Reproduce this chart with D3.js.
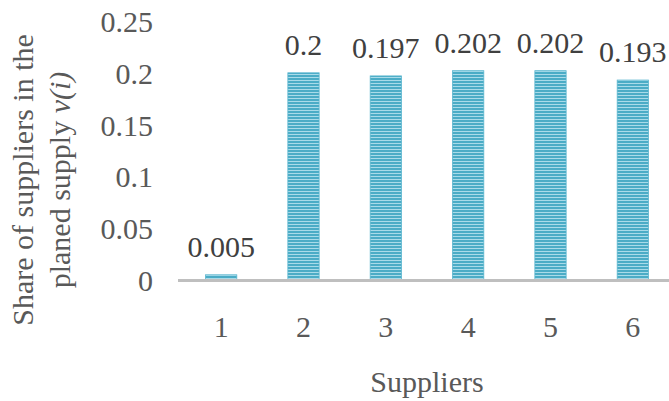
<!DOCTYPE html>
<html>
<head>
<meta charset="utf-8">
<script src="https://cdn.jsdelivr.net/npm/d3@7/dist/d3.min.js"></script>
<style>
  html, body { margin: 0; padding: 0; background: #fff; }
  svg { display: block; }
</style>
</head>
<body>
<svg id="chart" width="669" height="401"></svg>
<script>
// Share of each supplier in the planned supply
const suppliers = ["1", "2", "3", "4", "5", "6"];
const shares = [0.005, 0.2, 0.197, 0.202, 0.202, 0.193];
const yTicks = [0, 0.05, 0.1, 0.15, 0.2, 0.25];
const yTickLabels = ["0", "0.05", "0.1", "0.15", "0.2", "0.25"];

const W = 669, H = 401;
const plot = { left: 180, right: 674, top: 21, bottom: 280 };
const FONT = '"Liberation Serif"';
const FS = 30;

const svg = d3.select("#chart");

// striped fill for the bars
const defs = svg.append("defs");
const pat = defs.append("pattern")
  .attr("id", "stripes")
  .attr("patternUnits", "userSpaceOnUse")
  .attr("width", 8).attr("height", 3);
pat.append("rect").attr("width", 8).attr("height", 3).attr("fill", "#4bacc6");
pat.append("rect").attr("y", 2).attr("width", 8).attr("height", 1).attr("fill", "#a9dbe9");

const x = d3.scaleBand()
  .domain(suppliers)
  .range([plot.left, plot.right])
  .paddingInner(0.62)
  .paddingOuter(0.31);

const y = d3.scaleLinear()
  .domain([0, 0.25])
  .range([plot.bottom, plot.top]);

// bars
svg.append("g")
  .selectAll("rect")
  .data(shares)
  .join("rect")
  .attr("x", (d, i) => x(suppliers[i]))
  .attr("y", d => y(d))
  .attr("width", x.bandwidth())
  .attr("height", d => y(0) - y(d))
  .attr("fill", "url(#stripes)")
  .attr("stroke", "#5bb6cf")
  .attr("stroke-width", 0.8);

// category axis line
svg.append("line")
  .attr("x1", plot.left - 2).attr("x2", W)
  .attr("y1", y(0) + 0.5).attr("y2", y(0) + 0.5)
  .attr("stroke", "#bfbfbf")
  .attr("stroke-width", 3);

function styleText(sel, color) {
  return sel.style("font-family", FONT)
    .style("font-size", FS + "px")
    .attr("fill", color);
}

// value labels above bars
svg.append("g")
  .selectAll("text")
  .data(shares)
  .join("text")
  .attr("x", (d, i) => x(suppliers[i]) + x.bandwidth() / 2)
  .attr("y", d => y(d) - 18)
  .attr("text-anchor", "middle")
  .call(styleText, "#404040")
  .text(d => String(d));

// y tick labels
svg.append("g")
  .selectAll("text")
  .data(yTicks)
  .join("text")
  .attr("x", 153)
  .attr("y", d => y(d) + 11)
  .attr("text-anchor", "end")
  .call(styleText, "#595959")
  .text((d, i) => yTickLabels[i]);

// x tick labels
svg.append("g")
  .selectAll("text")
  .data(suppliers)
  .join("text")
  .attr("x", d => x(d) + x.bandwidth() / 2)
  .attr("y", 337)
  .attr("text-anchor", "middle")
  .call(styleText, "#595959")
  .text(d => d);

// x axis title
svg.append("text")
  .attr("x", (plot.left + plot.right) / 2)
  .attr("y", 392)
  .attr("text-anchor", "middle")
  .call(styleText, "#595959")
  .text("Suppliers");

// y axis title, two lines
const yt = svg.append("text")
  .attr("transform", "translate(0,180) rotate(-90)")
  .attr("text-anchor", "middle")
  .call(styleText, "#595959");
yt.append("tspan").attr("x", 0).attr("y", 33).text("Share of suppliers in the");
const l2 = yt.append("tspan").attr("x", 0).attr("y", 70);
l2.append("tspan").text("planed supply ");
l2.append("tspan").style("font-style", "italic").text("v(i)");
</script>
</body>
</html>
